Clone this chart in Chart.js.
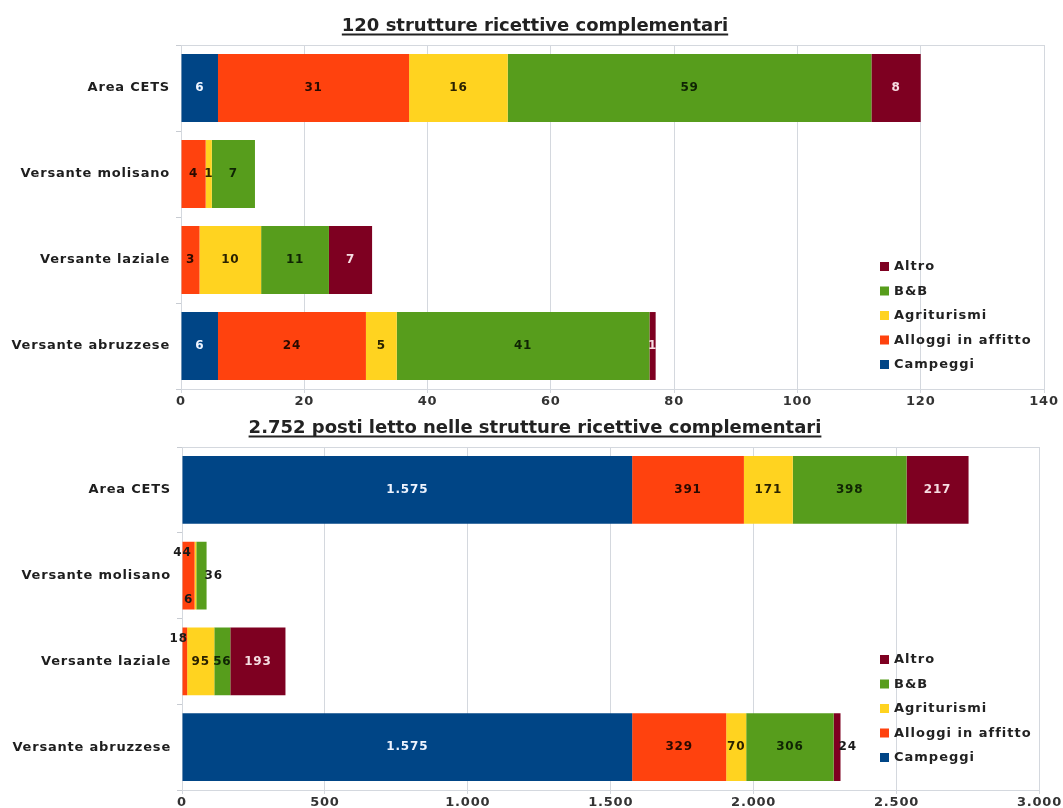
<!DOCTYPE html>
<html>
<head>
<meta charset="utf-8">
<script src="https://cdn.jsdelivr.net/npm/chart.js@4/dist/chart.umd.min.js"></script>
<style>
  html, body { margin: 0; padding: 0; background: #ffffff; }
  #wrap1 { position: absolute; left: 0; top: 0; width: 1063px; height: 410px; }
  #wrap2 { position: absolute; left: 0; top: 410px; width: 1063px; height: 398px; }
</style>
</head>
<body>
<div id="wrap1"><canvas id="strutture"></canvas></div>
<div id="wrap2"><canvas id="postiLetto"></canvas></div>
<script>
// Territorial areas (bar categories, top to bottom)
const areas = ['Area CETS', 'Versante molisano', 'Versante laziale', 'Versante abruzzese'];
// Accommodation types (stacked series, left to right)
const seriesNames = ['Campeggi', 'Alloggi in affitto', 'Agriturismi', 'B&B', 'Altro'];

// Number of complementary accommodation facilities per area
const struttureCampeggi = [6, 0, 0, 6];
const struttureAlloggi = [31, 4, 3, 24];
const struttureAgriturismi = [16, 1, 10, 5];
const struttureBB = [59, 7, 11, 41];
const struttureAltro = [8, 0, 7, 1];
const struttureTicks = [0, 20, 40, 60, 80, 100, 120, 140];

// Number of beds in complementary accommodation facilities per area
const lettoCampeggi = [1575, 0, 0, 1575];
const lettoAlloggi = [391, 44, 18, 329];
const lettoAgriturismi = [171, 6, 95, 70];
const lettoBB = [398, 36, 56, 306];
const lettoAltro = [217, 0, 193, 24];
const lettoTicks = [0, 500, 1000, 1500, 2000, 2500, 3000];

const titleStrutture = '120 strutture ricettive complementari';
const titleLetto = '2.752 posti letto nelle strutture ricettive complementari';

// Series palette and label colours
const fillColors = ['#004586', '#ff420e', '#ffd320', '#579d1c', '#7e0021'];
const labelColors = ['#eef4ff', '#2a0a00', '#2a2200', '#0f2404', '#f6dde2'];
const FONT = '"DejaVu Sans", Verdana, sans-serif';
const DARK = '#1a1a1a';

// Italian thousands separator
function fmt(v) {
  return String(v).replace(/\B(?=(\d{3})+(?!\d))/g, '.');
}

// Slightly widened lettering for the axis texts
const wideText = {
  id: 'wideText',
  beforeLayout(chart) { chart.ctx.letterSpacing = '0.8px'; },
  beforeDraw(chart) { chart.ctx.letterSpacing = '0.8px'; }
};

// Underlined heading centred on the canvas
const underlinedTitle = {
  id: 'underlinedTitle',
  afterDraw(chart, args, opts) {
    const ctx = chart.ctx;
    ctx.save();
    ctx.letterSpacing = '0px';
    ctx.font = 'bold 18px ' + FONT;
    ctx.fillStyle = '#222222';
    ctx.textAlign = 'center';
    ctx.textBaseline = 'alphabetic';
    ctx.fillText(opts.text, opts.x, opts.y);
    const w = ctx.measureText(opts.text).width;
    ctx.strokeStyle = '#222222';
    ctx.lineWidth = 2;
    ctx.beginPath();
    ctx.moveTo(opts.x - w / 2, opts.y + 3.5);
    ctx.lineTo(opts.x + w / 2, opts.y + 3.5);
    ctx.stroke();
    ctx.restore();
  }
};

// Light frame round the plot area
const plotFrame = {
  id: 'plotFrame',
  beforeDatasetsDraw(chart) {
    const a = chart.chartArea;
    const ctx = chart.ctx;
    ctx.save();
    ctx.strokeStyle = '#d4d8de';
    ctx.lineWidth = 1;
    ctx.strokeRect(Math.round(a.left) + 0.5, Math.round(a.top) + 0.5,
      Math.round(a.right - a.left), Math.round(a.bottom - a.top));
    ctx.restore();
  }
};

// Value labels inside each segment; segments much narrower than their label get it nudged aside
const segmentLabels = {
  id: 'segmentLabels',
  afterDatasetsDraw(chart) {
    const ctx = chart.ctx;
    ctx.save();
    ctx.letterSpacing = '0.8px';
    ctx.font = 'bold 12px ' + FONT;
    ctx.textBaseline = 'middle';
    chart.data.datasets.forEach((ds, di) => {
      const meta = chart.getDatasetMeta(di);
      meta.data.forEach((bar, i) => {
        const v = ds.data[i];
        if (!v) return;
        const text = fmt(v);
        const tw = ctx.measureText(text).width;
        const left = Math.min(bar.x, bar.base);
        const right = Math.max(bar.x, bar.base);
        const half = bar.height / 2;
        let x = (left + right) / 2;
        let y = bar.y;
        let align = 'center';
        let color = labelColors[di];
        if (right - left < tw - 4) {
          color = DARK;
          if (di === 1) {
            align = 'right'; x = (left + right) / 2 + 3; y = bar.y - half + 11;
          } else if (di === 2) {
            x = left - 6; y = bar.y + half - 10;
          } else {
            align = 'left'; x = right - 2;
          }
        }
        ctx.fillStyle = color;
        ctx.textAlign = align;
        ctx.fillText(text, x, y);
      });
    });
    ctx.restore();
  }
};

// Legend inside the plot area, listed in reverse stacking order
const innerLegend = {
  id: 'innerLegend',
  afterDraw(chart, args, opts) {
    const ctx = chart.ctx;
    const a = chart.chartArea;
    ctx.save();
    ctx.letterSpacing = '1px';
    ctx.font = 'bold 13px ' + FONT;
    ctx.textBaseline = 'middle';
    ctx.textAlign = 'left';
    const sets = chart.data.datasets.slice().reverse();
    sets.forEach((ds, k) => {
      const y = a.top + opts.top + k * opts.step;
      const x = a.left + opts.left;
      ctx.fillStyle = ds.backgroundColor;
      ctx.fillRect(x, y - 4, 9, 9);
      ctx.fillStyle = '#222222';
      ctx.fillText(ds.label, x + 14, y + 1);
    });
    ctx.restore();
  }
};

function buildChart(canvasId, series, ticks, title, layout) {
  const datasets = seriesNames.map((name, k) => ({
    label: name,
    data: series[k],
    backgroundColor: fillColors[k],
    borderWidth: 0,
    barPercentage: 0.79,
    categoryPercentage: 1.0
  }));
  const maxTick = ticks[ticks.length - 1];
  const step = ticks[1] - ticks[0];
  return new Chart(document.getElementById(canvasId), {
    type: 'bar',
    data: { labels: areas, datasets: datasets },
    plugins: [wideText, plotFrame, segmentLabels, innerLegend, underlinedTitle],
    options: {
      indexAxis: 'y',
      responsive: true,
      maintainAspectRatio: false,
      animation: false,
      layout: { padding: { left: 0, right: layout.right, top: layout.top, bottom: 0 } },
      plugins: {
        legend: { display: false },
        tooltip: { enabled: false },
        title: { display: false },
        underlinedTitle: { text: title, x: 535, y: layout.titleY },
        innerLegend: { left: layout.legendLeft, top: layout.legendTop, step: 24.5 }
      },
      scales: {
        x: {
          stacked: true,
          min: ticks[0],
          max: maxTick,
          afterBuildTicks: (scale) => { scale.ticks = ticks.map(v => ({ value: v })); },
          afterFit: (scale) => { scale.height = layout.axisHeight; },
          grid: { color: '#d4d8de', lineWidth: 1, tickLength: 4, drawTicks: true },
          border: { display: true, color: '#d4d8de' },
          ticks: {
            stepSize: step,
            padding: 1,
            color: '#333333',
            font: { family: FONT, size: 13, weight: 'bold' },
            callback: (v) => fmt(v)
          }
        },
        y: {
          stacked: true,
          afterFit: (scale) => { scale.width = layout.left; },
          grid: { offset: true, drawOnChartArea: false, color: '#c8ccd2', tickLength: 5 },
          border: { display: true, color: '#c8ccd2' },
          ticks: {
            padding: 6,
            color: '#1e1e1e',
            font: { family: FONT, size: 13, weight: 'bold' }
          }
        }
      }
    }
  });
}

buildChart('strutture',
  [struttureCampeggi, struttureAlloggi, struttureAgriturismi, struttureBB, struttureAltro],
  struttureTicks, titleStrutture,
  { left: 181, right: 19, top: 45, axisHeight: 21, titleY: 31, legendLeft: 699, legendTop: 221 });

buildChart('postiLetto',
  [lettoCampeggi, lettoAlloggi, lettoAgriturismi, lettoBB, lettoAltro],
  lettoTicks, titleLetto,
  { left: 182, right: 23, top: 37, axisHeight: 18, titleY: 23, legendLeft: 698, legendTop: 212 });
</script>
</body>
</html>
